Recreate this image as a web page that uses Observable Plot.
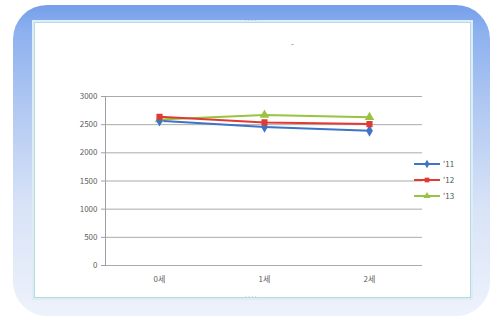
<!DOCTYPE html>
<html><head><meta charset="utf-8">
<script src="https://cdn.jsdelivr.net/npm/d3@7"></script>
<script src="https://cdn.jsdelivr.net/npm/@observablehq/plot@0.6"></script>
<style>
html,body{margin:0;padding:0;background:#fff;}
#wrap{position:relative;width:501px;height:319px;overflow:hidden;font-family:"Noto Sans CJK KR","Noto Sans",sans-serif;}
#frame{position:absolute;left:13px;top:5px;width:477px;height:311px;border-radius:34px;
  background:linear-gradient(180deg,#759fea 0%,#8cb0ef 8%,#b4caf2 35%,#d8e3f7 65%,#eef2fb 100%);}
#inner{position:absolute;left:34px;top:22px;width:435px;height:274px;background:#fff;border:1px solid #b5d9e6;box-shadow:0 0 0 2px #dcedf4;}
#chart{position:absolute;left:0;top:0;}
#title{position:absolute;left:291px;top:38px;font-size:8px;color:#666;}
#legend{position:absolute;left:414px;top:156px;font-size:8px;color:#555;line-height:16px;}
#legend div{display:flex;align-items:center;height:16px;}
#legend svg{margin-right:3px;}
.h{position:absolute;font-size:6px;color:#999;letter-spacing:0px;}
</style></head>
<body>
<div id="wrap">
  <div id="frame"></div>
  <div id="inner"></div>
  <div class="h" style="left:244px;top:16px;">····</div>
  <div class="h" style="left:244px;top:292px;">····</div>
  <div id="title">-</div>
  <div id="chart"></div>
  <div id="legend"></div>
</div>
<script>
const categories = ["0세", "1세", "2세"];
const series = ["'11", "'12", "'13"];
const v11 = [2570, 2460, 2390];
const v12 = [2640, 2540, 2510];
const v13 = [2590, 2670, 2630];
const yTicks = [0, 500, 1000, 1500, 2000, 2500, 3000];
const colors = ["#3f74c4", "#e03a33", "#98c441"];
const symbols = ["diamond", "square", "triangle"];
const drawOrder = ["'13", "'11", "'12"];

const values = [v11, v12, v13];
const data = [];
series.forEach((s, k) => categories.forEach((c, i) => data.push({cat: c, s, v: values[k][i]})));
const dotData = drawOrder.flatMap(s => data.filter(d => d.s === s));

const chart = Plot.plot({
  width: 501, height: 319,
  marginLeft: 105, marginRight: 79, marginTop: 96, marginBottom: 54,
  style: {background: "transparent", fontSize: "8px", fontFamily: "'Noto Sans CJK KR','Noto Sans',sans-serif", color: "#606060"},
  x: {type: "point", domain: categories, padding: 0.5, label: null},
  y: {domain: [0, 3000], label: null},
  color: {domain: series, range: colors},
  symbol: {domain: series, range: symbols},
  marks: [
    Plot.ruleY(yTicks, {stroke: "#ababab", strokeWidth: 1}),
    Plot.frame({anchor: "left", stroke: "#a0a0a0"}),
    Plot.axisY({ticks: yTicks, tickSize: 4, tickPadding: 4, stroke: "#a0a0a0", label: null, tickFormat: d => String(d)}),
    Plot.axisX({tickSize: 0, tickPadding: 11, label: null}),
    Plot.line(dotData, {x: "cat", y: "v", z: "s", stroke: "s", strokeWidth: 2}),
    Plot.dot(dotData, {x: "cat", y: "v", symbol: "s", fill: "s", stroke: "s", r: 2.6})
  ]
});
document.getElementById("chart").appendChild(chart);

const legend = document.getElementById("legend");
series.forEach((s, k) => {
  const row = document.createElement("div");
  const sym = d3.symbol(d3["symbol" + symbols[k][0].toUpperCase() + symbols[k].slice(1)], 22)();
  row.innerHTML = `<svg width="26" height="10"><line x1="0" x2="26" y1="5" y2="5" stroke="${colors[k]}" stroke-width="2"/><path d="${sym}" transform="translate(13,5)" fill="${colors[k]}"/></svg><span>${s}</span>`;
  legend.appendChild(row);
});
</script>
</body></html>
